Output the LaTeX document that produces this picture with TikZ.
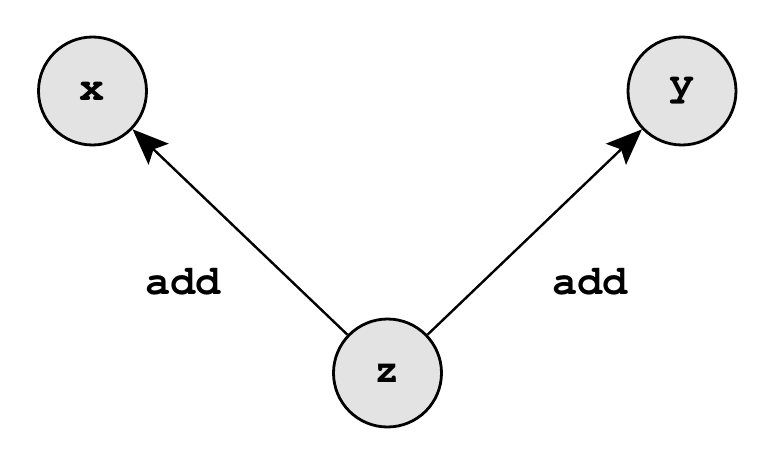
\documentclass[tikz,border=0pt]{standalone}
\usepackage{fontspec}
\newfontfamily\codefont{TeX Gyre Cursor}
\usetikzlibrary{arrows.meta}
\definecolor{nodefill}{HTML}{E3E3E3}
\begin{document}
\begin{tikzpicture}[x=1pt,y=-1pt,
  var/.style={circle,draw=black,line width=2.8pt,fill=nodefill,minimum size=108pt,inner sep=0pt,
    font=\codefont\bfseries\fontsize{42}{42}\selectfont},
  lbl/.style={font=\codefont\bfseries\fontsize{42}{42}\selectfont},
  link/.style={line width=2.4pt,arrows={-Stealth[length=36pt,width=29pt,inset=7pt]}}]
\useasboundingbox (0,0) rectangle (778,468);
\node[var] (x) at (92.5,91) {x};
\node[var] (y) at (682,91) {y};
\node[var] (z) at (387.5,373) {z};
\draw[link] (z) -- (x);
\draw[link] (z) -- (y);
\node[lbl] (l1) at (183,282) {add};
\node[lbl] (l2) at (590,282) {add};
\end{tikzpicture}
\end{document}
